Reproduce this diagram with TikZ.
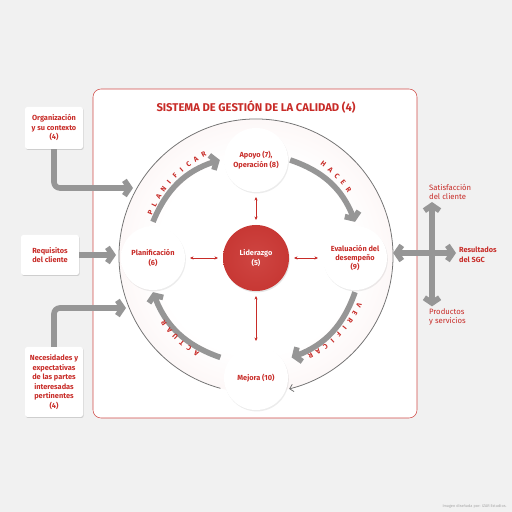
\documentclass[tikz,border=0pt]{standalone}
\usepackage{fontspec}
\setmainfont{Fira Sans}
\usepackage{tikz}
\usetikzlibrary{positioning,arrows.meta,shadows,calc}

\definecolor{sgcred}{RGB}{200,44,40}
\definecolor{sgcgray}{RGB}{150,150,150}
\definecolor{sgcbg}{RGB}{241,241,241}
\pgfdeclareradialshading{ringshade}{\pgfpoint{0bp}{0bp}}{color(0bp)=(white); color(18bp)=(white); color(50bp)=(sgcred!16)}
\pgfdeclareradialshading{ballshade}{\pgfpoint{0bp}{0bp}}{color(0bp)=(white); color(34bp)=(white); color(50bp)=(black!13)}
\pgfdeclareradialshading{redshade}{\pgfpoint{0bp}{0bp}}{color(0bp)=(sgcred!88!white); color(50bp)=(sgcred!96!black)}

\begin{document}
\begin{tikzpicture}[x=0.5mm,y=0.5mm,font=\fontsize{10.5}{13.5}\selectfont\bfseries,
    stage/.style={circle,minimum size=32mm,inner sep=0pt,align=center,text=sgcred,
      shading=ballshade,drop shadow={opacity=0.15,shadow xshift=0.4mm,shadow yshift=-0.7mm}},
    core/.style={circle,minimum size=33mm,inner sep=0pt,align=center,text=white,
      shading=redshade,drop shadow={opacity=0.2,shadow xshift=0.4mm,shadow yshift=-0.7mm}},
    inbox/.style={rounded corners=1.2mm,fill=white,align=center,text=sgcred,minimum width=29mm,
      drop shadow={opacity=0.3,shadow xshift=0.35mm,shadow yshift=-0.5mm}},
    outlabel/.style={anchor=west,align=left,inner sep=0pt,text=sgcred},
    flow/.style={draw=sgcgray,line width=2.8mm,-{Straight Barb[length=2.6mm,width=7.6mm]}},
    link/.style={draw=sgcred,line width=0.7pt,{Stealth[length=1.7mm,width=1.6mm]}-{Stealth[length=1.7mm,width=1.6mm]},
      shorten <=2.5mm,shorten >=2.5mm},
    cycleword/.style={text=sgcred,font=\fontsize{10}{10}\selectfont\bfseries,inner sep=0pt}]
  % pixel grid of the 512x512 sheet, y pointing up
  \fill[sgcbg] (0,0) rectangle (512,512);
  \useasboundingbox (0,0) rectangle (512,512);
  \draw[sgcred!85,line width=0.8pt,fill=white,rounded corners=4mm] (93,94) rectangle (417,423);
  \node[text=sgcred,font=\fontsize{16}{18}\selectfont\bfseries] (title) at (256,405) {SISTEMA DE GESTIÓN DE LA CALIDAD (4)};

  \node[circle,minimum size=137mm,inner sep=0pt,shading=ringshade] (ring) at (256,256) {};
  \draw[black!55,line width=1.1pt,-{Straight Barb[length=1.8mm,width=3.8mm]}]
     ($(ring.center)+(255:137)$) arc[start angle=255,end angle=-76,radius=137];
  \coordinate (hub) at (256,256);

  \coordinate (orgin) at (133,324);
  \coordinate (reqin) at (116,257);
  \coordinate (necin) at (126,204);
  \node[inbox,minimum height=21mm] (org) at (54,384) {Organización\\y su contexto\\(4)};
  \node[inbox,minimum height=20mm] (req) at (50,257) {Requisitos\\del cliente};
  \node[inbox,minimum height=35mm] (nec) at (54,130) {Necesidades y\\expectativas\\de las partes\\interesadas\\pertinentes\\(4)};
  \draw[flow,rounded corners=3mm] (org.south) |- (orgin);
  \draw[flow] (req.east) -- (reqin);
  \draw[flow,rounded corners=3mm] (nec.north) |- (necin);

  \node[stage] (apoyo) at (256,352) {Apoyo (7),\\Operación (8)};
  \node[stage] (plan) at (153,254) {Planificación\\(6)};
  \node[stage] (eval) at (355,254) {Evaluación del\\desempeño\\(9)};
  \node[stage] (mejora) at (256,134) {Mejora (10)};
  \node[core] (lider) at (256,254) {Liderazgo\\(5)};

  \draw[flow] ([yshift=2mm]plan.north) to[bend left=25] ([xshift=-2mm]apoyo.west);
  \draw[flow] ([xshift=1mm]apoyo.east) to[bend left=25] ([yshift=2mm]eval.north);
  \draw[flow] ([yshift=-1mm]eval.south) to[bend left=25] ([shift={(30:4.5mm)}]mejora.30);
  \draw[flow] ([shift={(150:4.5mm)}]mejora.150) to[bend left=25] ([yshift=-1mm]plan.south);
  \foreach \s in {apoyo,plan,eval,mejora}
    \draw[link] (lider) -- (\s);

  \foreach \first/\letters [count=\w] in {157.8/{P,L,A,N,I,F,I,C,A,R},53.7/{H,A,C,E,R},
      -25.4/{V,E,R,I,F,I,C,A,R},-121.5/{A,C,T,U,A,R}}
    \foreach \l [count=\i] in \letters {
      \pgfmathsetmacro\ang{\first-4.5*(\i-1)}
      \node[cycleword,rotate=\ang-90] (c\w-\i) at ($(hub)+(\ang:114)$) {\l};
    }

  \node[outlabel,font=\fontsize{11}{13.5}\selectfont] (satis) at (429,320) {Satisfacción\\del cliente};
  \node[outlabel] (result) at (459,257) {Resultados\\del SGC};
  \node[outlabel,font=\fontsize{11}{13.5}\selectfont] (prod) at (429,195) {Productos\\y servicios};
  \coordinate (split) at (432,259);
  \draw[flow] (split) -- (ring.east |- split);
  \draw[flow,shorten >=1mm] (split) -- (split |- satis.south);
  \draw[flow,shorten >=1mm] (split) -- (split |- prod.north);
  \draw[flow,shorten >=1.5mm] (split) -- (result.west |- split);

  \node[anchor=south east,text=black!35,font=\fontsize{5.5}{6}\selectfont] (credit) at (509,1) {Imagen diseñada por: IZAR Estudios.};
\end{tikzpicture}
\end{document}
